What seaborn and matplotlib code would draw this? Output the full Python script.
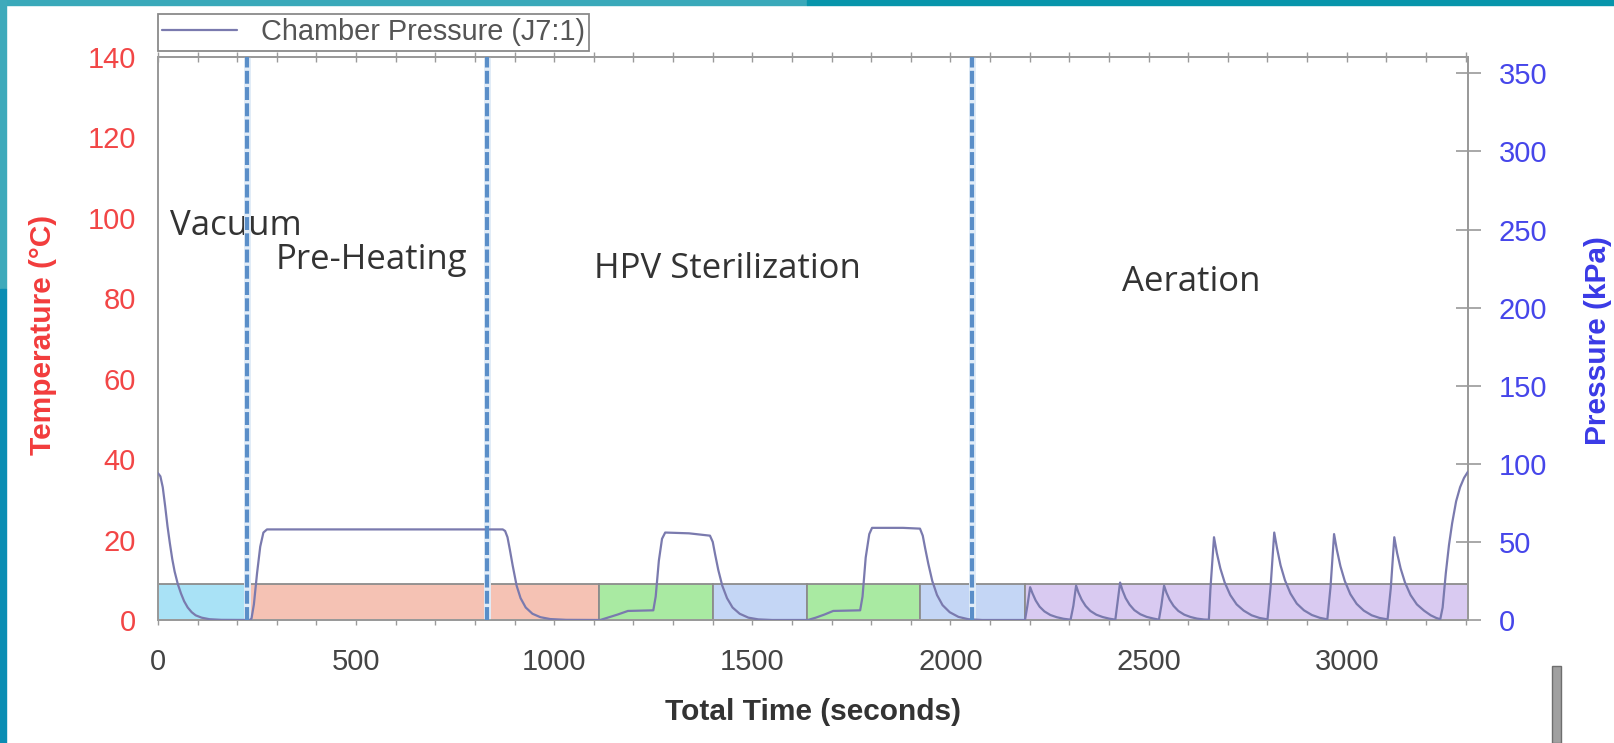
import matplotlib
matplotlib.use("Agg")
import matplotlib.pyplot as plt
import seaborn as sns
import pandas as pd
from matplotlib.patches import Rectangle

# %% Datos

# presion de camara (kPa) por tramo, (tiempo s, presion kPa)
vacio_t = [0, 6, 12, 18, 24, 30, 36, 42, 50, 58, 66, 75, 85, 95, 110, 130, 160, 232]
vacio_p = [94, 92, 85, 73, 60, 49, 39, 31, 23, 17, 12, 8, 5, 3, 1.5, 0.5, 0.1, 0]

precal_t = [236, 242, 250, 258, 266, 275, 870, 876, 882, 888, 895, 905, 915, 928, 945, 965, 990, 1030, 1116]
precal_p = [1, 10, 30, 47, 56, 58, 58, 57, 53, 45, 35, 22, 14, 8, 4, 1.8, 0.6, 0.1, 0]

hpv1_t = [1135, 1160, 1186, 1250, 1256, 1264, 1272, 1280, 1340, 1393, 1400, 1406, 1414, 1424, 1436,
          1450, 1468, 1490, 1515, 1550, 1640]
hpv1_p = [1.5, 3.5, 5.8, 6.2, 15, 38, 52, 56, 55.5, 54, 50, 42, 32, 22, 14, 8, 4, 1.5, 0.4, 0, 0]

hpv2_t = [1660, 1682, 1704, 1772, 1778, 1786, 1795, 1802, 1880, 1923, 1930, 1936, 1944, 1954, 1966,
          1980, 1998, 2020, 2045, 2080, 2188]
hpv2_p = [1.5, 3.5, 5.8, 6.2, 15, 40, 55, 59, 59, 58.5, 54, 46, 36, 25, 16, 9.5, 5, 2, 0.5, 0, 0]

aire_t = [2194, 2201, 2207, 2215, 2225, 2237, 2252, 2268, 2285, 2303,
          2310, 2317, 2323, 2331, 2341, 2353, 2368, 2384, 2400, 2416,
          2421, 2428, 2434, 2442, 2452, 2464, 2479, 2495, 2511, 2526,
          2532, 2539, 2545, 2553, 2563, 2575, 2590, 2606, 2622, 2640, 2652,
          2656, 2665, 2672, 2681, 2692, 2706, 2722, 2740, 2760, 2780, 2800,
          2808, 2817, 2824, 2833, 2844, 2858, 2874, 2892, 2912, 2932, 2951,
          2959, 2968, 2975, 2984, 2995, 3009, 3025, 3043, 3063, 3083, 3103,
          3111, 3120, 3127, 3136, 3147, 3161, 3177, 3195, 3212, 3226, 3236,
          3242, 3250, 3258, 3266, 3276, 3286, 3296, 3306]
aire_p = [9, 21, 17, 12.5, 8.5, 5.5, 3.2, 1.8, 0.8, 0.2,
          9, 22, 17.5, 13, 9, 5.8, 3.4, 1.9, 0.9, 0.2,
          10, 24, 19, 14, 9.8, 6.3, 3.7, 2, 1, 0.2,
          9, 22, 17.5, 13, 9, 5.8, 3.4, 1.9, 0.9, 0.3, 0.2,
          20, 53, 43, 33, 24, 16, 10, 6, 3, 1.3, 0.4,
          22, 56, 46, 35, 25.5, 17, 10.5, 6.2, 3.2, 1.4, 0.4,
          21, 55, 45, 34.5, 25, 16.5, 10.3, 6, 3, 1.3, 0.4,
          20, 53, 43, 33, 24, 16, 10, 6, 3, 1.3, 0.5,
          8, 30, 48, 62, 76, 85, 91, 95]

# bandas de color de las etapas (inicio, fin en s)
bandas_inicio = [0, 225, 1113, 1400, 1638, 1923, 2188]
bandas_fin = [225, 1113, 1400, 1638, 1923, 2188, 3306]
bandas_color = ['#a9e2f6', '#f5c2b4', '#a9eaa2', '#c4d6f5', '#a9eaa2', '#c4d6f5', '#d9caf1']
altura_banda = 9  # en grados C

# divisiones de etapas (lineas punteadas)
divisiones = [225, 830, 2054]

# etiquetas de etapas (t, temperatura, texto)
etapas_txt = ['Vacuum', 'Pre-Heating', 'HPV Sterilization', 'Aeration']
etapas_x = [30, 298, 1100, 2433]
etapas_y = [98, 89.5, 87.3, 84]

temp_ticks = [0, 20, 40, 60, 80, 100, 120, 140]
pres_ticks = [0, 50, 100, 150, 200, 250, 300, 350]
x_ticks = [0, 500, 1000, 1500, 2000, 2500, 3000]

# %% Armado del DataFrame
df = pd.DataFrame({
    'tiempo': vacio_t + precal_t + hpv1_t + hpv2_t + aire_t,
    'presion': vacio_p + precal_p + hpv1_p + hpv2_p + aire_p,
})

# %% Grafico
sns.set_theme(style='white')
plt.rcParams['font.family'] = ['Liberation Sans', 'DejaVu Sans']

W, H = 1614, 743
fig = plt.figure(figsize=(W / 100, H / 100), dpi=100)
fig.patch.set_facecolor('white')

x0, x1, y_top, y_bot = 158, 1468, 57, 620
ax = fig.add_axes([x0 / W, (H - y_bot) / H, (x1 - x0) / W, (y_bot - y_top) / H])
ax2 = ax.twinx()

# bandas de etapas
ax.bar(bandas_inicio, [altura_banda] * len(bandas_inicio),
       width=[b - a for a, b in zip(bandas_inicio, bandas_fin)], align='edge',
       color=bandas_color, edgecolor='#8c8c8c', linewidth=1.3, zorder=1)

ax.set_xlim(0, 3306)
ax.set_ylim(0, 140)
ax2.set_ylim(0, 360.5)

# curva de presion
sns.lineplot(data=df, x='tiempo', y='presion', ax=ax2, color='#4e4e98', linewidth=2.5,
             estimator=None, sort=False, label='Chamber Pressure (J7:1)', zorder=4)

for d in divisiones:
    ax2.axvline(d, color='#e1ecf7', linewidth=5, zorder=2)
    ax2.axvline(d, color='#5a8ec8', linewidth=3, linestyle=(0, (3.1, 0.8)), zorder=5)

for txt, tx, ty in zip(etapas_txt, etapas_x, etapas_y):
    ax.text(tx, ty, txt, fontfamily=['Open Sans', 'DejaVu Sans'], fontsize=25,
            color='#333333', ha='left', va='center', zorder=6)

# ejes y ticks
ax.set_xticks(x_ticks)
ax.set_xticks(range(0, 3301, 100), minor=True)
ax.set_yticks(temp_ticks)
ax2.set_yticks(pres_ticks)

ax.tick_params(axis='x', which='both', top=True, bottom=True, direction='inout', length=7,
               width=1, color='#9a9a9a', labelsize=21, labelcolor='#444444', pad=17)
ax.tick_params(axis='y', length=0, labelsize=21, labelcolor='#f24646', pad=16)
ax2.tick_params(axis='y', direction='inout', length=18, width=1.2, color='#9a9a9a',
                labelsize=21, labelcolor='#4646ea', pad=13)
ax2.tick_params(axis='x', length=0)

for a in (ax, ax2):
    for s in a.spines.values():
        s.set_color('#9a9a9a')
        s.set_linewidth(1.3)

ax.set_xlabel('Total Time (seconds)', fontsize=21.5, fontweight='bold', color='#333333')
ax.xaxis.set_label_coords(0.5, (y_bot - 698) / (y_bot - y_top))
ax.set_ylabel('Temperature (°C)', fontsize=21.5, fontweight='bold', color='#f23c3c')
ax.yaxis.set_label_coords((57 - x0) / (x1 - x0), (y_bot - 335) / (y_bot - y_top))
ax2.set_ylabel('Pressure (kPa)', fontsize=21.5, fontweight='bold', color='#3a3ae6', rotation=90)
ax2.yaxis.set_label_coords((1584 - x0) / (x1 - x0), (y_bot - 341) / (y_bot - y_top))

# leyenda arriba a la izquierda
handles, labels = ax2.get_legend_handles_labels()
ax2.get_legend().remove()
handles[0].set_color('#7a7aae')
handles[0].set_linewidth(1.6)
leg = fig.legend(handles, labels, loc='upper left', bbox_to_anchor=(158 / W, (H - 14) / H),
                 borderaxespad=0, frameon=True, fancybox=False, framealpha=1,
                 fontsize=20.8, handlelength=2.6, handletextpad=0.8, borderpad=0.15,
                 labelcolor='#555555')
leg.get_frame().set_edgecolor('#8a8a8a')
leg.get_frame().set_linewidth(1.3)

# marco de la captura (bordes turquesa y palito gris)
fig.patches.append(Rectangle((0, (H - 5) / H), 0.5, 5 / H, transform=fig.transFigure,
                             color='#3aa9ba', zorder=10))
fig.patches.append(Rectangle((0.5, (H - 5) / H), 0.5, 5 / H, transform=fig.transFigure,
                             color='#0795ab', zorder=10))
fig.patches.append(Rectangle((0, (H - 289) / H), 6 / W, 289 / H, transform=fig.transFigure,
                             color='#3eaabb', zorder=10))
fig.patches.append(Rectangle((0, 0), 6 / W, (H - 289) / H, transform=fig.transFigure,
                             color='#0a8db3', zorder=10))
fig.patches.append(Rectangle((1552 / W, 0), 9 / W, (H - 666) / H, transform=fig.transFigure,
                             facecolor='#a0a0a0', edgecolor='#6e6e6e', linewidth=1, zorder=10))

fig.savefig('out.png', dpi=100)
